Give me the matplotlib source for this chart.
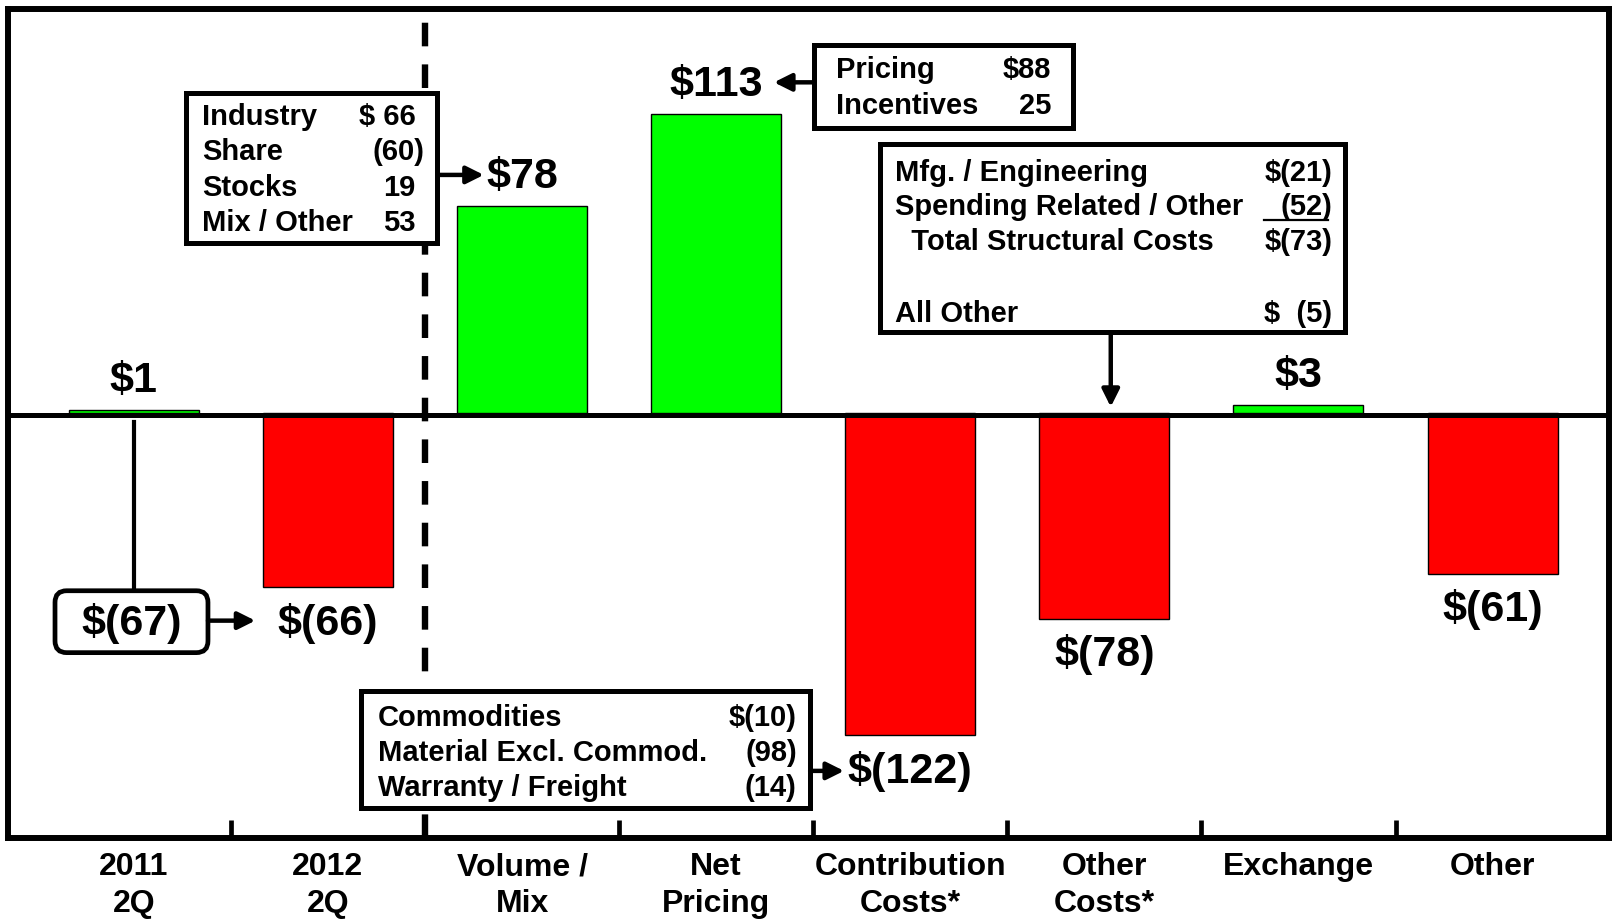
"""2Q 2012 vs 2Q 2011 pre-tax walk, by causal factor."""

import matplotlib

matplotlib.use("Agg")
import matplotlib.pyplot as plt
from matplotlib.patches import FancyBboxPatch, Rectangle

# ── data ────────────────────────────────────────────────────────────────
categories = [
    "2011\n2Q", "2012\n2Q", "Volume /\nMix", "Net\nPricing",
    "Contribution\nCosts*", "Other\nCosts*", "Exchange", "Other",
]
values = [1, -66, 78, 113, -122, -78, 3, -61]
value_labels = ["$1", "$(66)", "$78", "$113", "$(122)", "$(78)", "$3", "$(61)"]
start_total = "$(67)"

volume_items = ["Industry", "Share", "Stocks", "Mix / Other"]
volume_amounts = ["$ 66", "(60)", "19", "53"]
pricing_items = ["Pricing", "Incentives"]
pricing_amounts = ["$88", "25"]
contrib_items = ["Commodities", "Material Excl. Commod.", "Warranty / Freight"]
contrib_amounts = ["$(10)", "(98)", "(14)"]
other_items = ["Mfg. / Engineering", "Spending Related / Other",
               "  Total Structural Costs", "", "All Other"]
other_amounts = ["$(21)", "(52)", "$(73)", "", "$  (5)"]

GREEN = "#00ff00"
RED = "#ff0000"
FONT = "Liberation Sans"

plt.rcParams["font.family"] = [FONT, "DejaVu Sans"]
plt.rcParams["font.weight"] = "bold"
plt.rcParams["lines.scale_dashes"] = False

fig = plt.figure(figsize=(16.14, 9.23), dpi=100)
ax = fig.add_axes([0.0051, 0.0923, 0.9917, 0.8976])
ax.set_xlim(-0.647, 7.599)
ax.set_ylim(-160.7, 152.5)

for side in ("left", "right", "top", "bottom"):
    ax.spines[side].set_linewidth(4.3)
ax.set_yticks([])

x = list(range(len(categories)))
# gains sit on top of the zero line, losses hang below it
for xi, v in zip(x, values):
    ax.bar(xi, v, width=0.67, color=GREEN if v >= 0 else RED,
           edgecolor="black", linewidth=1.0, zorder=4 if v >= 0 else 2)
ax.axhline(-0.7, color="black", lw=3.6, zorder=3)

# value labels above / below each bar
for xi, v, lab in zip(x, values, value_labels):
    y = v + 11 if v >= 0 else v - 13.5
    ax.text(xi, y, lab, ha="center", va="center", fontsize=31, fontweight="bold", zorder=6)

# category labels and separator ticks
ax.set_xticks(x)
ax.set_xticklabels(categories, fontsize=23, fontweight="bold", linespacing=1.3)
ax.tick_params(axis="x", which="major", length=0, pad=10.5)
ax.set_xticks([i + 0.5 for i in range(len(categories) - 1)], minor=True)
ax.tick_params(axis="x", which="minor", direction="in", length=13, width=3.4)

# dashed divider between the two quarters and the causal factors
ax.axvline(1.5, color="black", lw=4.6, ls=(0, (17, 13)), zorder=1)


def breakdown_box(x0, x1, y_top, y_bot, items, amounts, rows_y, text_x, fs=21):
    ax.add_patch(Rectangle((x0, y_bot), x1 - x0, y_top - y_bot, fc="white",
                           ec="black", lw=3.6, zorder=5))
    for item, amount, y in zip(items, amounts, rows_y):
        y -= 1.0
        if item:
            ax.text(text_x, y, item, ha="left", va="center", fontsize=fs,
                    fontweight="bold", zorder=6)
        if amount:
            hang = 6 if amount.endswith(")") else 0
            ax.annotate(amount, (x1 - 0.111, y), xytext=(hang, 0),
                        textcoords="offset points", ha="right", va="center",
                        fontsize=fs, fontweight="bold", zorder=6)


def arrow(x0, y0, x1, y1):
    ax.annotate("", xy=(x1, y1), xytext=(x0, y0), zorder=6,
                arrowprops=dict(arrowstyle="-|>", color="black", lw=3.2,
                                mutation_scale=26, shrinkA=0, shrinkB=0))


# Volume / Mix breakdown
breakdown_box(0.270, 1.564, 121.0, 64.2, volume_items, volume_amounts,
              [112.8, 99.6, 86.0, 72.8], 0.350)
arrow(1.564, 89.9, 1.803, 89.9)

# Net Pricing breakdown
breakdown_box(3.505, 4.836, 138.9, 107.8, pricing_items, pricing_amounts,
              [130.4, 117.1], 3.617)
arrow(3.505, 124.9, 3.298, 124.9)

# Contribution costs breakdown
breakdown_box(1.172, 3.484, -105.1, -149.4, contrib_items, contrib_amounts,
              [-114.4, -127.6, -140.9], 1.257)
arrow(3.484, -135.4, 3.659, -135.4)

# Other costs breakdown
breakdown_box(3.845, 6.242, 101.6, 30.4, other_items, other_amounts,
              [91.8, 78.6, 65.4, 52.0, 38.5], 3.919)
ax.plot([5.823, 6.152], [72.8, 72.8], color="black", lw=1.6, zorder=6)
arrow(5.033, 30.4, 5.033, 2.2)

# 2011 2Q restated total
px_x, px_y = 188.57, 2.57
ax.add_patch(FancyBboxPatch((-0.406, -90.7), 0.788, 23.4,
                            boxstyle="round,pad=0,rounding_size=0.06",
                            mutation_aspect=px_x / px_y, fc="white",
                            ec="black", lw=3.4, zorder=5))
ax.text(-0.011, -79.8, start_total, ha="center", va="center", fontsize=31,
        fontweight="bold", zorder=6)
ax.plot([0, 0], [-3.5, -67.3], color="black", lw=3.0, zorder=4)
arrow(0.382, -78.6, 0.626, -78.6)

fig.savefig("out.png", dpi=100)
